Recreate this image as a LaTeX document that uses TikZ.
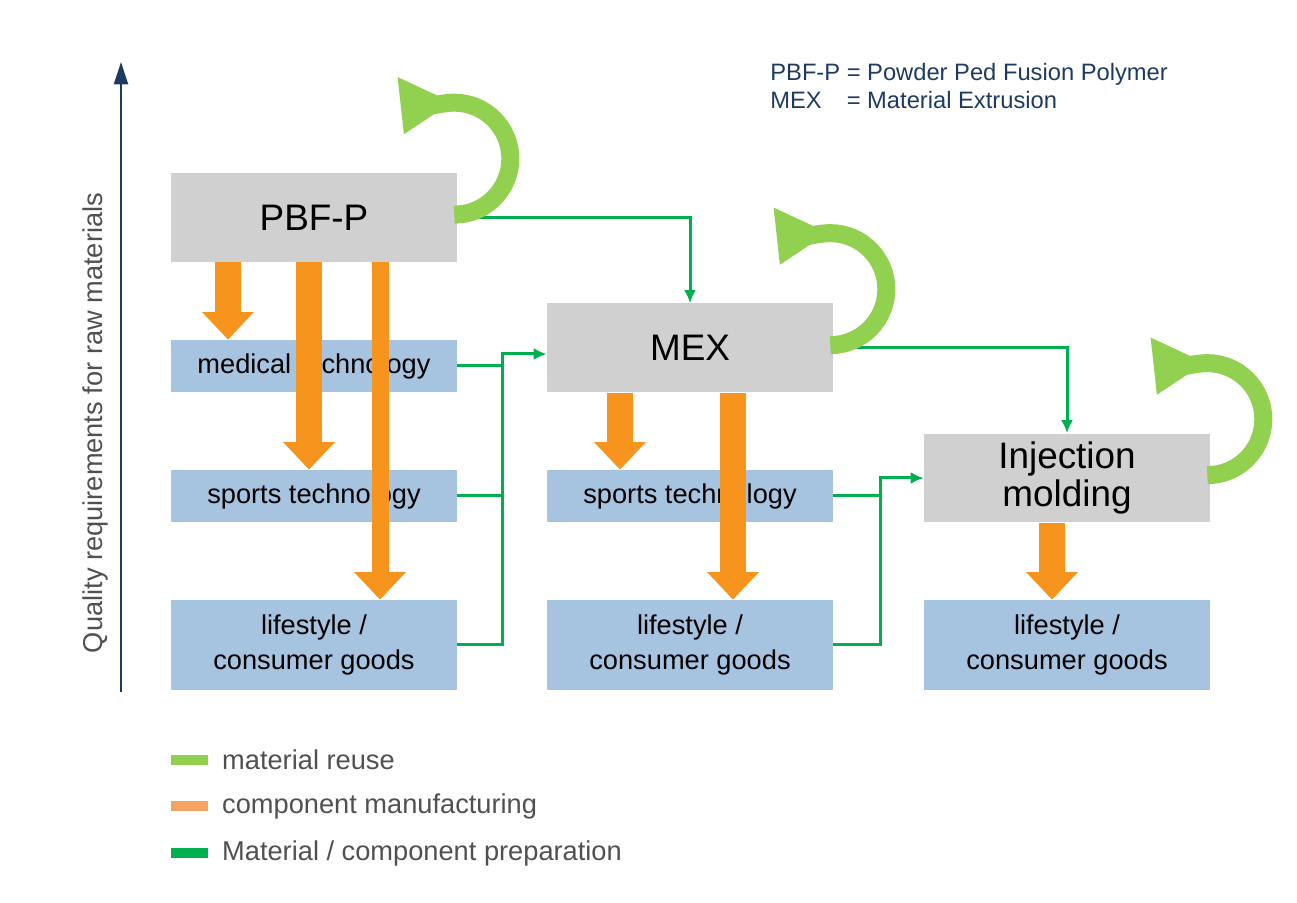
\documentclass[tikz,border=0pt]{standalone}
\usepackage{fontspec}
\setmainfont{Liberation Sans}
\usetikzlibrary{arrows.meta,calc}
\definecolor{boxgray}{HTML}{D0D0D0}
\definecolor{boxblue}{HTML}{A6C3E0}
\definecolor{manuorange}{HTML}{F7941D}
\definecolor{legorange}{HTML}{F4A460}
\definecolor{prepgreen}{HTML}{00B050}
\definecolor{reusegreen}{HTML}{92D050}
\definecolor{axisblue}{HTML}{1F3A60}
\definecolor{leggray}{HTML}{505050}
\newcommand{\manu}{-{Triangle[width=1cm,length=0.55cm]}}
\newcommand{\prep}{-{Latex[length=2.6mm,width=2.4mm]}}
\newcommand{\reuseloop}[1]{%
  \draw[reuse] ($(#1.north east)+(-3,-42)$) arc[start angle=-90,end angle=155,radius=56];}
\tikzset{
  proc/.style={fill=boxgray,minimum width=5.72cm,minimum height=1.78cm,font=\fontsize{21}{24}\selectfont,align=center,inner sep=0pt},
  appl/.style={fill=boxblue,minimum width=5.72cm,minimum height=1.04cm,font=\fontsize{15.5}{20}\selectfont,align=center,inner sep=0pt},
  appltall/.style={appl,minimum height=1.8cm},
  orarrow/.style={draw=manuorange,line width=0.52cm,\manu},
  narrow/.style={orarrow,line width=0.34cm},
  greenline/.style={draw=prepgreen,line width=0.06cm},
  reuse/.style={draw=reusegreen,line width=0.36cm,-{Triangle[width=1.12cm,length=1cm]}},
  legend/.style={anchor=west,font=\fontsize{15.5}{18}\selectfont,text=leggray}
}
\begin{document}
\begin{tikzpicture}[x=0.02cm,y=0.02cm]
\useasboundingbox (0,0) rectangle (1297,902);
%process boxes
\node[proc] (pbf) at (314,684.5) {PBF-P};
\node[proc] (mex) at (690,554) {MEX};
\node[proc] (inj) at (1067,424) {Injection\\[-2pt]molding};
%application boxes
\node[appl] (med) at (314,536) {medical technology};
\node[appl] (spA) at (314,406) {sports technology};
\node[appltall] (lsA) at (314,257) {lifestyle /\\consumer goods};
\node[appl] (spB) at (690,406) {sports technology};
\node[appltall] (lsB) at (690,257) {lifestyle /\\consumer goods};
\node[appltall] (lsC) at (1067,257) {lifestyle /\\consumer goods};
%component manufacturing
\coordinate (oa) at (228,0);
\coordinate (ob) at (309,0);
\coordinate (oc) at (380,0);
\coordinate (od) at (620,0);
\coordinate (oe) at (733,0);
\coordinate (of) at (1052,0);
\draw[orarrow] (pbf.south -| oa) -- (med.north -| oa);
\draw[orarrow] (pbf.south -| ob) -- (spA.north -| ob);
\draw[narrow] (pbf.south -| oc) -- (lsA.north -| oc);
\draw[orarrow] (mex.south -| od) -- (spB.north -| od);
\draw[orarrow] (mex.south -| oe) -- (lsB.north -| oe);
\draw[orarrow] (inj.south -| of) -- (lsC.north -| of);
%material / component preparation
\coordinate (ja) at (502,548);
\coordinate (jb) at (880,424);
\draw[greenline,\prep] (pbf.east) -| (mex.north);
\draw[greenline,\prep] (mex.east) -| (inj.north);
\draw[greenline] (med.east) -- (med.east -| ja);
\draw[greenline] (spA.east) -- (spA.east -| ja);
\draw[greenline,\prep] (lsA.east) -| (ja) -- (ja -| mex.west);
\draw[greenline] (spB.east) -- (spB.east -| jb);
\draw[greenline,\prep] (lsB.east) -| (jb) -- (jb -| inj.west);
%material reuse
\reuseloop{pbf}
\reuseloop{mex}
\reuseloop{inj}
%axis
\coordinate (ax0) at (121,210);
\coordinate (ax1) at (121,840);
\draw[axisblue,line width=0.05cm,-{Triangle[width=2.8mm,length=4.5mm]}] (ax0) -- (ax1);
\node[rotate=90,font=\fontsize{15.5}{18}\selectfont,text=leggray] (axlabel) at (95,479) {Quality requirements for raw materials};
%abbreviations
\node[anchor=north west,text=axisblue,font=\fontsize{13.5}{16}\selectfont,inner sep=0pt] (abbr) at (770,842)
  {\begin{tabular}{@{}l@{ }l@{}}PBF-P&= Powder Ped Fusion Polymer\\MEX&= Material Extrusion\end{tabular}};
%legend
\fill[reusegreen] (171,137) rectangle (208,147);
\fill[legorange] (171,91) rectangle (208,101);
\fill[prepgreen] (171,44) rectangle (208,54);
\node[legend] (lega) at (216,142) {material reuse};
\node[legend] (legb) at (216,96) {component manufacturing};
\node[legend] (legc) at (216,49) {Material / component preparation};
\end{tikzpicture}
\end{document}
